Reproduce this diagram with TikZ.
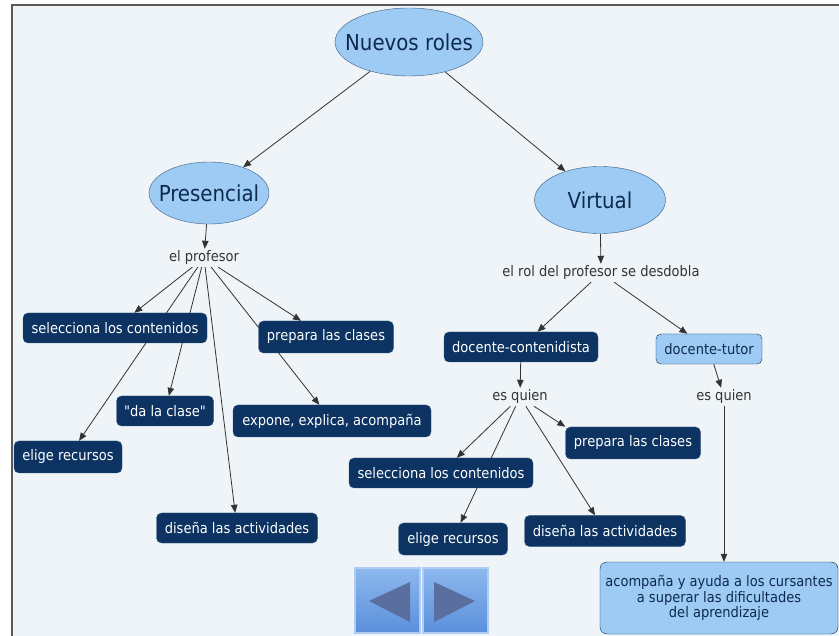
\documentclass[tikz,border=0pt]{standalone}
\usepackage{fontspec}
\setmainfont{DejaVu Sans Condensed}
\usetikzlibrary{arrows.meta,shapes.geometric,backgrounds}
\pgfdeclarelayer{edges}
\pgfsetlayers{background,edges,main}

\definecolor{panel}{HTML}{EEF4F7}
\definecolor{navy}{HTML}{0C3361}
\definecolor{navyedge}{HTML}{3B5B82}
\definecolor{skyfill}{HTML}{9DCBF4}
\definecolor{inkblue}{HTML}{0E2A4E}
\definecolor{linkgray}{HTML}{333333}
\definecolor{btntop}{HTML}{8DB8EE}
\definecolor{btnbottom}{HTML}{5A8FDB}
\definecolor{btnarrow}{HTML}{5A6F9F}

\begin{document}
\begin{tikzpicture}[
    x=1pt, y=-1pt,
    >={Triangle[length=8pt,width=6.5pt]},
    topic/.style={
        ellipse,
        draw=navyedge,
        fill=skyfill,
        text=inkblue,
        inner xsep=-20pt,
        inner ysep=-5pt,
        font=\fontsize{22}{26}\selectfont
    },
    concept/.style={
        draw=navyedge,
        fill=navy,
        text=white,
        rounded corners=5pt,
        inner sep=0pt,
        minimum height=30pt,
        font=\fontsize{14.5}{17}\selectfont
    },
    lightbox/.style={
        concept,
        fill=skyfill,
        draw=inkblue,
        text=inkblue
    },
    linker/.style={
        text=linkgray,
        inner sep=2pt,
        font=\fontsize{14.5}{17}\selectfont
    },
    link/.style={->, draw=linkgray, line width=0.8pt}
]
\useasboundingbox (0,0) rectangle (839,636);

% panel
\begin{pgfonlayer}{background}
\fill[white] (0,0) rectangle (839,636);
\fill[panel] (12,5) rectangle (839,636);
\draw[line width=2.5pt, black!65] (12,636) -- (12,5) -- (839,5);
\end{pgfonlayer}

% top
\node[topic, minimum width=148pt, minimum height=68pt] (roles) at (409,42) {Nuevos roles};

\node[topic, minimum width=120pt, minimum height=62pt] (pres) at (209,193) {Presencial};
\node[topic, minimum width=131pt, minimum height=67pt] (virt) at (600,200) {Virtual};

% presencial
\node[linker] (prof) at (204,258) {el profesor};

\node[concept, minimum width=184pt] (selL) at (115,328) {selecciona los contenidos};
\node[concept, minimum width=135pt, minimum height=32pt] (prepL) at (326,337) {prepara las clases};
\node[concept, minimum width=97pt] (clase) at (165,411) {\textquotedbl da la clase\textquotedbl};
\node[concept, minimum width=198pt, minimum height=32pt] (expone) at (332,421) {expone, explica, acompaña};
\node[concept, minimum width=108pt, minimum height=32pt] (eligeL) at (68,457) {elige recursos};
\node[concept, minimum width=161pt] (disL) at (237,528) {diseña las actividades};

% virtual
\node[linker] (rol) at (601,273) {el rol del profesor se desdobla};

\node[concept, minimum width=154pt] (cont) at (521,347) {docente-contenidista};
\node[lightbox, minimum width=106pt] (tutor) at (709,349) {docente-tutor};

\node[linker] (quienC) at (520,397) {es quien};
\node[linker] (quienT) at (724,397) {es quien};

\node[concept, minimum width=135pt, minimum height=32pt] (prepR) at (633,443) {prepara las clases};
\node[concept, minimum width=184pt] (selR) at (441,473) {selecciona los contenidos};
\node[concept, minimum width=109pt, minimum height=32pt] (eligeR) at (453,539) {elige recursos};
\node[concept, minimum width=161pt, minimum height=31pt] (disR) at (605,531) {diseña las actividades};

\node[lightbox, minimum width=238pt, minimum height=72pt, align=center,
      rounded corners=7pt, font=\fontsize{14.5}{15.5}\selectfont] (ayuda) at (719,598)
    {acompaña y ayuda a los cursantes\\a superar las dificultades\\del aprendizaje};

% links
\begin{pgfonlayer}{edges}
\draw[link] (roles) -- (pres);
\draw[link] (roles) -- (virt);

\draw[link] (pres) -- (prof);
\draw[link] (prof) -- (selL);
\draw[link] (prof) -- (eligeL);
\draw[link] (prof) -- (clase);
\draw[link] (prof) -- (disL);
\draw[link] (prof) -- (expone);
\draw[link] (prof) -- (prepL);

\draw[link] (virt) -- (rol);
\draw[link] (rol) -- (cont);
\draw[link] (rol) -- (tutor);
\draw[link] (cont) -- (quienC);
\draw[link] (tutor) -- (quienT);

\draw[link] (quienC) -- (selR);
\draw[link] (quienC) -- (eligeR);
\draw[link] (quienC) -- (disR);
\draw[link] (quienC) -- (prepR.north west);
\draw[link] (quienT) -- (quienT |- ayuda.north);
\end{pgfonlayer}

% buttons
\draw[btntop!70!white, line width=1.5pt, top color=btntop, bottom color=btnbottom]
    (355,568) rectangle (420,633);
\draw[btntop!70!white, line width=1.5pt, top color=btntop, bottom color=btnbottom]
    (423,568) rectangle (488,633);
\fill[btnarrow] (369,601) -- (410,582) -- (410,622) -- cycle;
\fill[btnarrow] (475,601) -- (434,582) -- (434,622) -- cycle;

\end{tikzpicture}
\end{document}
